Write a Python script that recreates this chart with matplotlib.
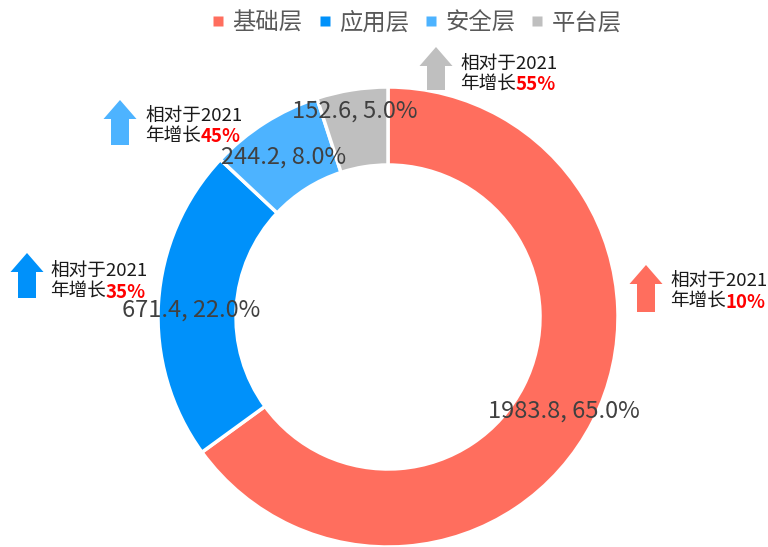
import matplotlib.pyplot as plt
from matplotlib.patches import Polygon
from matplotlib.lines import Line2D
import numpy as np

plt.rcParams["font.family"] = ["Noto Sans CJK SC", "DejaVu Sans"]

# data
layers = ["基础层", "应用层", "安全层", "平台层"]
values = [1983.8, 671.4, 244.2, 152.6]
shares = [65.0, 22.0, 8.0, 5.0]
growth = ["10%", "35%", "45%", "55%"]
colors = ["#FF6E5E", "#0091FA", "#4DB3FF", "#BFBFBF"]

W, H = 768, 547
fig = plt.figure(figsize=(W / 100, H / 100), dpi=100)
ax = fig.add_axes([0, 0, 1, 1])

# donut, drawn in pixel coordinates (y up)
cx, cy, R = 388, H - 317, 230
ring = 78
wedges, _ = ax.pie(
    values,
    colors=colors,
    startangle=90,
    counterclock=False,
    center=(cx, cy),
    radius=R,
    wedgeprops=dict(width=ring, edgecolor="white", linewidth=2.5),
)

# value labels at wedge mid-angles (small wedge label sits further out)
label_r = [197, 197, 195, 214]
cum = np.cumsum([0] + shares)
for i in range(len(values)):
    mid = 90 - (cum[i] + shares[i] / 2) * 3.6
    x = cx + label_r[i] * np.cos(np.radians(mid))
    y = cy + label_r[i] * np.sin(np.radians(mid)) - 5
    ax.text(x, y, f"{values[i]}, {shares[i]:.1f}%", ha="center", va="center",
            fontsize=17, color="#404040")

ax.set_xlim(0, W)
ax.set_ylim(0, H)
ax.set_aspect("equal")
ax.axis("off")


# growth arrows + notes (pixel coords, y measured from top)
def up_arrow(x, top, bottom, color):
    hw, sw, hl = 16.5, 9, 19
    pts = [
        (x - sw, bottom), (x - sw, top + hl), (x - hw, top + hl), (x, top),
        (x + hw, top + hl), (x + sw, top + hl), (x + sw, bottom),
    ]
    ax.add_patch(Polygon([(px, H - py) for px, py in pts], closed=True,
                         facecolor=color, edgecolor="none"))


note_pos = [(646, 265, 312, 670, 282), (27, 253, 298, 50, 272),
            (120, 100, 145, 145, 117), (436, 47, 90, 460, 65)]
fs = 13.4
em = fs * 100 / 72
for i, (axx, top, bot, tx, ty) in enumerate(note_pos):
    up_arrow(axx, top, bot, colors[i])
    ax.text(tx, H - ty, "相对于2021", fontsize=fs, color="#1a1a1a",
            ha="left", va="center")
    ax.text(tx, H - ty - 20, "年增长", fontsize=fs, color="#1a1a1a",
            ha="left", va="center")
    ax.text(tx + 3 * em, H - ty - 20, growth[i], fontsize=fs, color="#FF0000",
            fontweight="bold", ha="left", va="center")

# legend
handles = [Line2D([], [], marker="s", linestyle="none", markersize=7,
                  markerfacecolor=c, markeredgecolor="none") for c in colors]
fig.legend(handles, layers, loc="center", bbox_to_anchor=(417 / W, 1 - 23 / H),
           ncol=4, frameon=False, fontsize=16.8, handlelength=0.5,
           handletextpad=0.35, columnspacing=0.7, labelcolor="#595959")

fig.savefig("out.png", dpi=100)
